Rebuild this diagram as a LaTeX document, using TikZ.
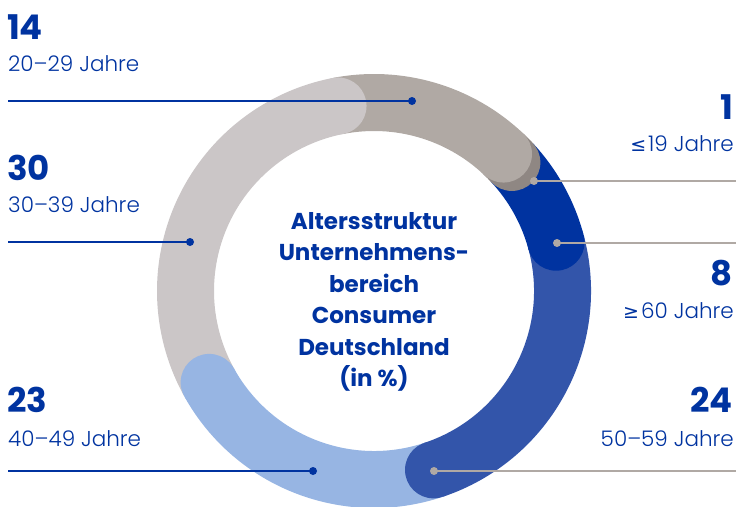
\documentclass[tikz,border=0pt]{standalone}
\usepackage{fontspec}
\setmainfont{Poppins}
\newfontfamily\lightfont{Poppins Light}
\newfontfamily\symfont{DejaVu Sans}
\usepackage{tikz}

\definecolor{ageblue}{RGB}{0,51,160}
\definecolor{agemid}{RGB}{51,85,170}
\definecolor{agesky}{RGB}{151,181,227}
\definecolor{agelight}{RGB}{203,198,199}
\definecolor{agetan}{RGB}{176,169,164}
\definecolor{agedark}{RGB}{143,135,131}

\begin{document}
\begin{tikzpicture}[x=1pt,y=1pt,yscale=-1,
	ring/.style={line width=57pt},
	leader/.style={line width=1.8pt},
	dot/.style={circle,inner sep=0pt,minimum size=8pt},
	num/.style={inner sep=0pt,text=ageblue,font=\bfseries\fontsize{34}{36}\selectfont},
	years/.style={inner sep=0pt,text=ageblue,font=\lightfont\fontsize{21.5}{25}\selectfont},
	title/.style={inner sep=0pt,text=ageblue,align=center,font=\bfseries\fontsize{23}{31.5}\selectfont}]
	\useasboundingbox (0,0) rectangle (736,506);
	
	%Shape: Arc (segments, clockwise from the cap end)
	\foreach \a/\b/\c in {43/46.6/agedark, 46.6/101/agetan, 101/209/agelight, 209/288.4/agesky, 288.4/375/agemid, 15/43/ageblue}
	\draw [ring,\c] (374,291) ++(-\a:188.5) arc [start angle=-\a, end angle=-\b, radius=188.5] ;
	%Shape: Circle (round ends)
	\foreach \a/\c in {15/ageblue, 43/agedark, 46.6/agetan, 101/agelight, 209/agesky, 288.4/agemid}
	\fill [\c] (374,291) ++(-\a:188.5) circle [radius=28.5] ;
	
	% Text Node
	\node [title] (title) at (374,302) {Altersstruktur\\Unternehmens-\\bereich\\Consumer\\Deutschland\\(in \%)};
	
	%Straight Lines (left, blue)
	\coordinate (e2029) at (8,101);
	\coordinate (e3039) at (8,242);
	\coordinate (e4049) at (8,471);
	\draw [leader,ageblue] (e2029) -- (412,101) node [dot,fill=ageblue] (d2029) {};
	\draw [leader,ageblue] (e3039) -- (190,242) node [dot,fill=ageblue] (d3039) {};
	\draw [leader,ageblue] (e4049) -- (313,471) node [dot,fill=ageblue] (d4049) {};
	%Straight Lines (right, grey)
	\coordinate (e19) at (736,181);
	\coordinate (e60) at (736,243);
	\coordinate (e5059) at (736,471);
	\draw [leader,agetan] (e19) -- (534,181) node [dot,fill=agetan] (d19) {};
	\draw [leader,agetan] (e60) -- (557,243) node [dot,fill=agetan] (d60) {};
	\draw [leader,agetan] (e5059) -- (434,471) node [dot,fill=agetan] (d5059) {};
	
	% Text Node
	\node [num,anchor=base west] (n2029) at (7,39) {14};
	\node [years,anchor=base west] (l2029) at (8,71) {20–29 Jahre};
	\node [num,anchor=base west] (n3039) at (7,180) {30};
	\node [years,anchor=base west] (l3039) at (8,212) {30–39 Jahre};
	\node [num,anchor=base west] (n4049) at (7,412) {23};
	\node [years,anchor=base west] (l4049) at (8,446) {40–49 Jahre};
	% Text Node
	\node [num,anchor=base east] (n19) at (733,119) {1};
	\node [years,anchor=base east] (l19) at (734,151) {{\symfont\fontsize{19}{22}\selectfont ≤}\kern2pt19 Jahre};
	\node [num,anchor=base east] (n60) at (733,285) {8};
	\node [years,anchor=base east] (l60) at (734,318) {{\symfont\fontsize{19}{22}\selectfont ≥}\kern2pt60 Jahre};
	\node [num,anchor=base east] (n5059) at (733,412) {24};
	\node [years,anchor=base east] (l5059) at (734,446) {50–59 Jahre};
	
\end{tikzpicture}
\end{document}
